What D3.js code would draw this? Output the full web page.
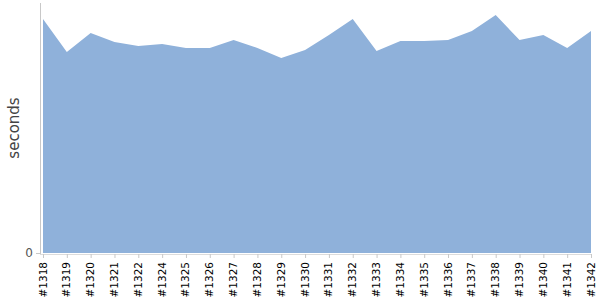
<!DOCTYPE html>
<html>
<head>
<meta charset="utf-8">
<script src="https://cdn.jsdelivr.net/npm/d3@7"></script>
<style>
  body { margin: 0; background: #fff; }
  svg { display: block; font-family: "DejaVu Sans", Verdana, sans-serif; }
</style>
</head>
<body>
<svg id="chart" width="600" height="300"></svg>
<script>
// builds
const builds = ['#1318','#1319','#1320','#1321','#1322','#1324','#1325','#1326','#1327','#1328','#1329','#1330',
  '#1331','#1332','#1333','#1334','#1335','#1336','#1337','#1338','#1339','#1340','#1341','#1342'];
// duration per build
const seconds = [234,201,220,211,207,209,205,205,213,205,195,203,218,234,202,212,212,213,222,238,213,218,205,222];
const yTicks = [0];

const svg = d3.select('#chart');

const x = d3.scalePoint()
  .domain(builds)
  .range([43, 591]);

const y = d3.scaleLinear()
  .domain([0, 250])
  .range([253, 3]);

// area
const area = d3.area()
  .x((d, i) => x(builds[i]))
  .y0(y(0))
  .y1(d => y(d));

svg.append('path')
  .datum(seconds)
  .attr('d', area)
  .attr('fill', '#8fb1da');

// axis lines
svg.append('line')
  .attr('x1', 40.5).attr('x2', 40.5)
  .attr('y1', y(250)).attr('y2', y(0) + 1)
  .attr('stroke', '#c8c8c8');

svg.append('line')
  .attr('x1', 40).attr('x2', 591)
  .attr('y1', 254.5).attr('y2', 254.5)
  .attr('stroke', '#dcdcdc');

const yg = svg.append('g');

yg.selectAll('line')
  .data(yTicks)
  .enter()
  .append('line')
  .attr('x1', 36).attr('x2', 40)
  .attr('y1', d => y(d) + 0.5).attr('y2', d => y(d) + 0.5)
  .attr('stroke', '#c8c8c8');

yg.selectAll('text')
  .data(yTicks)
  .enter()
  .append('text')
  .attr('x', 33)
  .attr('y', d => y(d) + 4)
  .attr('text-anchor', 'end')
  .attr('font-size', 12)
  .attr('fill', '#555')
  .text(d => d);

// x ticks + labels
const xg = svg.append('g');

xg.selectAll('line')
  .data(builds)
  .enter()
  .append('line')
  .attr('x1', d => x(d) + 0.5).attr('x2', d => x(d) + 0.5)
  .attr('y1', 254).attr('y2', 258)
  .attr('stroke', '#c8c8c8');

xg.selectAll('text')
  .data(builds)
  .enter()
  .append('text')
  .attr('transform', d => 'translate(' + (x(d) + 3.5) + ',262) rotate(-90)')
  .attr('text-anchor', 'end')
  .attr('font-size', 10.5)
  .attr('fill', '#000')
  .text(d => d);

// axis title
svg.append('text')
  .attr('transform', 'translate(19,128) rotate(-90)')
  .attr('text-anchor', 'middle')
  .attr('font-size', 15)
  .attr('fill', '#444')
  .text('seconds');
</script>
</body>
</html>
